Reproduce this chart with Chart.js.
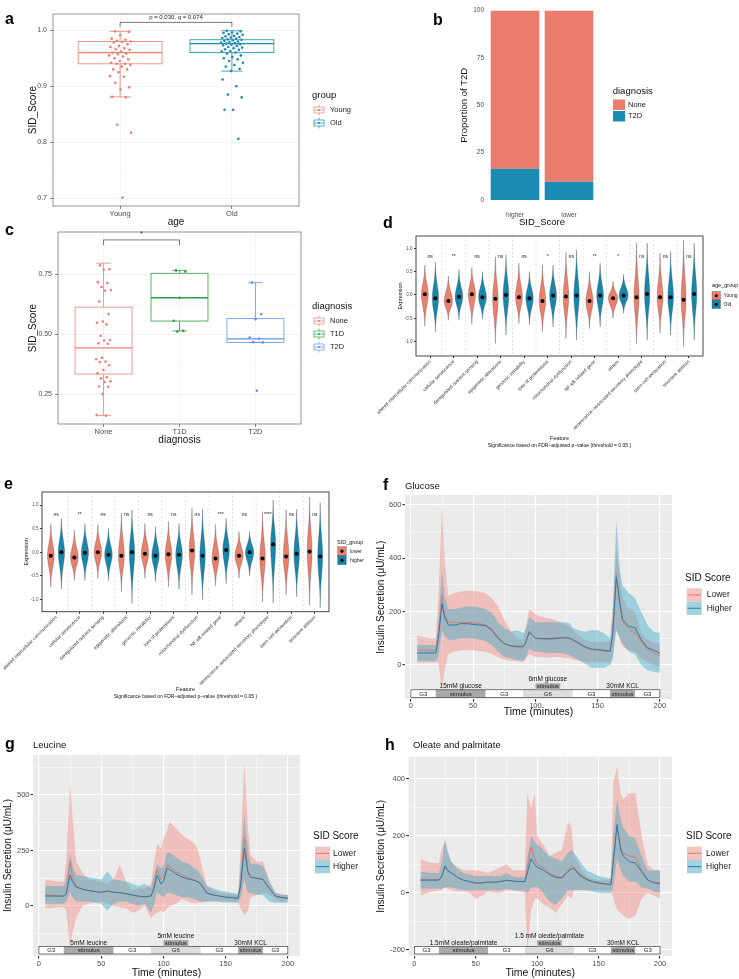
<!DOCTYPE html>
<html>
<head>
<meta charset="utf-8">
<title>SID score figure</title>
<script src="https://cdn.jsdelivr.net/npm/chart.js@4.4.1/dist/chart.umd.min.js"></script>
<style>
  body { margin: 0; background: #fff; font-family: "Liberation Sans", Arial, sans-serif; }
  #fig { position: relative; width: 739px; height: 979px; overflow: hidden; }
  .box { position: absolute; }
  .tag { position: absolute; font-size: 16px; line-height: 16px; font-weight: bold; color: #000; }
  .ttl { position: absolute; font-size: 9.5px; line-height: 9.5px; color: #111; white-space: nowrap; }
</style>
</head>
<body>
<div id="fig">
  <div class="box" style="left:0;top:0;width:370px;height:228px"><canvas id="chA"></canvas></div>
  <div class="box" style="left:370px;top:0;width:369px;height:228px"><canvas id="chB"></canvas></div>
  <div class="box" style="left:0;top:228px;width:370px;height:218px"><canvas id="chC"></canvas></div>
  <div class="box" style="left:370px;top:228px;width:369px;height:230px"><canvas id="chD"></canvas></div>
  <div class="box" style="left:0;top:480px;width:370px;height:230px"><canvas id="chE"></canvas></div>
  <div class="box" style="left:370px;top:470px;width:369px;height:248px"><canvas id="chF"></canvas></div>
  <div class="box" style="left:0;top:720px;width:370px;height:259px"><canvas id="chG"></canvas></div>
  <div class="box" style="left:370px;top:720px;width:369px;height:259px"><canvas id="chH"></canvas></div>

  <div class="tag" style="left:5px;top:10.5px">a</div>
  <div class="tag" style="left:433px;top:11.5px">b</div>
  <div class="tag" style="left:5px;top:221.5px">c</div>
  <div class="tag" style="left:383px;top:214.8px">d</div>
  <div class="tag" style="left:4px;top:475.8px">e</div>
  <div class="tag" style="left:383px;top:477.2px">f</div>
  <div class="tag" style="left:5px;top:735.5px">g</div>
  <div class="tag" style="left:385px;top:736.5px">h</div>
  <div class="ttl" style="left:405px;top:481.3px">Glucose</div>
  <div class="ttl" style="left:33px;top:739.7px">Leucine</div>
  <div class="ttl" style="left:413px;top:739.7px">Oleate and palmitate</div>
</div>
<script>
const FONT = '"Liberation Sans", Arial, sans-serif';
Chart.defaults.font.family = FONT;
Chart.defaults.color = '#4D4D4D';
Chart.defaults.animation = false;
Chart.defaults.responsive = true;
Chart.defaults.maintainAspectRatio = false;
Chart.defaults.plugins.legend.display = false;
Chart.defaults.plugins.tooltip.enabled = false;

// ---- a: SID score by age ----
const ageGroups = ['Young', 'Old'];
const youngScores = [0.998, 0.997, 0.991, 0.985, 0.983, 0.981, 0.980, 0.979, 0.978, 0.975, 0.972, 0.970, 0.968, 0.966, 0.965, 0.962, 0.960, 0.958, 0.957, 0.955, 0.953, 0.950, 0.948, 0.945, 0.942, 0.940, 0.940, 0.938, 0.935, 0.930, 0.930, 0.925, 0.918, 0.917, 0.906, 0.898, 0.894, 0.881, 0.880, 0.831, 0.817, 0.701];
const oldScores = [0.999, 0.998, 0.996, 0.995, 0.994, 0.993, 0.992, 0.990, 0.989, 0.988, 0.987, 0.986, 0.985, 0.984, 0.983, 0.982, 0.981, 0.980, 0.979, 0.978, 0.977, 0.976, 0.975, 0.974, 0.973, 0.972, 0.970, 0.969, 0.968, 0.966, 0.965, 0.963, 0.962, 0.960, 0.958, 0.955, 0.952, 0.950, 0.948, 0.945, 0.942, 0.938, 0.935, 0.931, 0.927, 0.912, 0.900, 0.885, 0.880, 0.858, 0.858, 0.806];
// whisker low, q1, median, q3, whisker high
const youngBox = [0.881, 0.940, 0.960, 0.980, 0.998];
const oldBox = [0.927, 0.960, 0.976, 0.983, 0.999];
const ageTest = 'p = 0.030, q = 0.074';

// ---- b: T2D proportion by SID group ----
const sidGroups = ['higher', 'lower'];
const noneShare = [83.5, 90.3];
const t2dShare = [16.5, 9.7];

// ---- c: SID score by diagnosis ----
const diagGroups = ['None', 'T1D', 'T2D'];
const noneScores = [0.786, 0.770, 0.768, 0.716, 0.712, 0.696, 0.683, 0.680, 0.635, 0.583, 0.552, 0.547, 0.540, 0.493, 0.475, 0.473, 0.461, 0.459, 0.401, 0.395, 0.385, 0.383, 0.370, 0.350, 0.336, 0.320, 0.315, 0.303, 0.300, 0.281, 0.280, 0.250, 0.162, 0.160];
const t1dScores = [0.765, 0.760, 0.651, 0.555, 0.513, 0.510];
const t2dScores = [0.714, 0.583, 0.561, 0.485, 0.480, 0.466, 0.465, 0.264];
const noneBox = [0.160, 0.333, 0.442, 0.612, 0.795];
const t1dBox = [0.513, 0.554, 0.651, 0.753, 0.765];
const t2dBox = [0.465, 0.465, 0.480, 0.564, 0.714];

// ---- d / e: hallmark expression ----
const features = ['altered intercellular communication', 'cellular senescence', 'deregulated nutrient sensing', 'epigenetic alterations', 'genomic instability', 'loss of proteostasis', 'mitochondrial dysfunction', 'NF-κB related gene', 'others', 'senescence–associated secretory phenotype', 'stem cell exhaustion', 'telomere attrition'];
const youngLo = [-0.67, -0.54, -0.63, -1.04, -0.61, -0.79, -0.93, -0.72, -0.50, -1.04, -0.82, -1.11];
const youngHi = [0.64, 0.41, 0.59, 0.82, 0.68, 0.64, 0.91, 0.50, 0.29, 1.11, 0.90, 1.18];
const youngMean = [0.015, -0.13, 0.015, -0.08, -0.05, -0.13, -0.03, -0.13, -0.07, -0.05, -0.05, -0.10];
const oldLo = [-0.79, -0.54, -0.52, -0.86, -0.64, -0.68, -0.97, -0.68, -0.39, -0.97, -0.86, -0.97];
const oldHi = [0.71, 0.54, 0.50, 0.86, 0.50, 0.64, 0.97, 0.68, 0.44, 1.11, 0.93, 1.11];
const oldMean = [-0.07, -0.04, -0.05, 0.00, -0.07, -0.01, -0.01, -0.01, -0.01, 0.02, -0.05, 0.02];
const ageSig = ['ns', '**', 'ns', 'ns', 'ns', '*', 'ns', '**', '*', 'ns', 'ns', 'ns'];

const lowerLo = [-0.74, -0.59, -0.55, -0.83, -0.55, -0.73, -0.90, -0.71, -0.55, -1.05, -0.90, -1.12];
const lowerHi = [0.61, 0.47, 0.58, 0.83, 0.61, 0.65, 0.93, 0.59, 0.44, 0.86, 0.90, 1.17];
const lowerMean = [-0.07, -0.11, 0.00, -0.07, -0.03, -0.04, 0.04, -0.13, -0.07, -0.13, -0.09, 0.02];
const higherLo = [-0.78, -0.60, -0.60, -1.08, -0.62, -0.78, -1.00, -0.66, -0.50, -1.08, -0.94, -1.17];
const higherHi = [0.72, 0.61, 0.51, 0.90, 0.54, 0.61, 0.91, 0.72, 0.44, 1.11, 0.91, 1.05];
const higherMean = [0.00, -0.01, -0.05, 0.00, -0.07, -0.05, -0.07, 0.05, 0.00, 0.17, -0.03, -0.09];
const sidSig = ['ns', '**', 'ns', 'ns', 'ns', 'ns', 'ns', '***', 'ns', '****', 'ns', 'ns'];

// ---- f / g / h: perifusion traces ----
const timeMin = [5, 10, 15, 20, 22, 25, 27, 30, 35, 40, 45, 50, 55, 60, 65, 70, 75, 80, 85, 90, 92, 95, 98, 100, 103, 105, 110, 115, 120, 125, 128, 130, 135, 140, 145, 150, 155, 160, 162, 165, 168, 170, 175, 180, 185, 190, 195, 200];

const glucoseLowerMean = [55, 55, 55, 55, 120, 262, 190, 160, 160, 160, 160, 158, 155, 150, 135, 105, 80, 70, 66, 64, 80, 120, 110, 100, 98, 97, 95, 97, 100, 100, 98, 92, 80, 65, 57, 55, 52, 50, 120, 340, 220, 165, 135, 120, 90, 60, 45, 35];
const glucoseLowerLo = [8, 8, 8, 8, 10, -95, -20, 40, 50, 55, 55, 55, 52, 50, 40, 30, 20, 15, 15, 10, 20, 40, 35, 30, 30, 30, 28, 30, 30, 25, 25, 20, 15, 10, 10, 10, 10, 10, 30, 140, 90, 70, 55, 50, 25, 10, 0, -5];
const glucoseLowerHi = [110, 105, 100, 100, 250, 595, 400, 260, 270, 275, 278, 278, 275, 270, 250, 220, 170, 130, 100, 95, 130, 210, 200, 190, 185, 180, 175, 170, 160, 150, 140, 130, 110, 95, 85, 85, 85, 90, 200, 440, 320, 250, 210, 200, 120, 95, 85, 80];
const glucoseHigherMean = [45, 45, 45, 45, 100, 230, 180, 150, 150, 155, 155, 152, 150, 148, 130, 100, 80, 72, 70, 70, 80, 125, 110, 100, 100, 100, 98, 100, 102, 102, 100, 95, 82, 68, 60, 58, 55, 52, 110, 330, 230, 170, 145, 140, 95, 65, 55, 45];
const glucoseHigherLo = [15, 15, 15, 15, 30, 130, 110, 95, 95, 100, 100, 98, 95, 90, 75, 50, 30, 25, 20, 15, 25, 60, 55, 50, 50, 48, 45, 45, 45, 40, 35, 30, 20, 5, -10, -10, -10, 0, 20, 130, 100, 80, 50, 40, 0, -20, -25, -30];
const glucoseHigherHi = [75, 75, 75, 75, 150, 360, 260, 210, 210, 215, 220, 220, 215, 210, 195, 160, 140, 125, 130, 120, 130, 180, 170, 160, 160, 160, 160, 160, 160, 160, 155, 140, 130, 125, 130, 130, 120, 100, 180, 545, 350, 300, 270, 250, 200, 150, 125, 120];

const leucineLowerMean = [50, 50, 45, 45, 60, 200, 130, 90, 75, 70, 65, 62, 65, 62, 60, 55, 50, 42, 42, 45, 80, 165, 120, 130, 185, 180, 155, 140, 128, 118, 110, 100, 60, 50, 45, 40, 38, 35, 100, 310, 160, 130, 125, 120, 80, 45, 38, 35];
const leucineLowerLo = [-10, -10, -5, -5, -20, -190, -120, -50, 0, 10, 15, 20, 10, 0, -5, -10, -30, -20, 0, -55, -40, -30, -20, -30, -10, 0, 10, 30, 20, 10, 15, 15, 20, 20, 25, 25, 20, 20, -10, -40, -20, 40, 50, 60, 55, 30, 20, 20];
const leucineLowerHi = [120, 115, 110, 110, 200, 550, 400, 200, 150, 120, 115, 110, 100, 120, 185, 110, 70, 80, 80, 100, 180, 280, 260, 300, 340, 380, 350, 320, 300, 280, 250, 200, 90, 70, 60, 55, 52, 50, 250, 650, 350, 230, 200, 200, 120, 60, 55, 50];
const leucineHigherMean = [45, 45, 45, 45, 55, 140, 110, 85, 75, 70, 65, 62, 68, 62, 60, 55, 50, 45, 42, 45, 70, 140, 100, 110, 170, 165, 145, 130, 122, 115, 108, 98, 58, 50, 45, 40, 38, 35, 90, 260, 150, 130, 125, 120, 80, 45, 38, 35];
const leucineHigherLo = [10, 10, 10, 10, 20, 60, 40, 20, 20, 20, 15, 10, -20, 10, 20, 20, 10, 0, 10, -30, 0, 60, 50, 40, 60, 60, 50, 40, 40, 30, 25, 20, 20, 20, 18, 15, 15, 15, 40, 120, 60, 60, 50, 50, 20, 15, 15, 15];
const leucineHigherHi = [90, 90, 90, 90, 120, 240, 180, 140, 135, 130, 125, 120, 155, 120, 115, 110, 100, 90, 100, 80, 130, 190, 170, 180, 240, 240, 220, 200, 190, 170, 160, 140, 90, 80, 70, 65, 60, 55, 180, 410, 250, 190, 190, 180, 110, 60, 50, 50];

const oleateLowerMean = [47, 47, 47, 47, 60, 90, 80, 70, 55, 45, 40, 35, 35, 38, 38, 40, 45, 42, 40, 40, 90, 160, 120, 100, 95, 90, 70, 60, 55, 80, 95, 90, 65, 50, 40, 35, 32, 30, 120, 230, 160, 140, 130, 125, 80, 45, 38, 35];
const oleateLowerLo = [-10, 0, 5, 10, 10, 20, 15, 10, 5, 5, 0, -20, -10, 5, 0, 0, 10, 10, 5, 0, -200, -60, -20, -20, -30, -40, -50, -70, -40, -10, -20, 10, 10, 10, 10, 10, 10, 10, -20, -60, -70, -80, -90, -80, -20, 0, -10, -20];
const oleateLowerHi = [120, 110, 105, 105, 150, 180, 140, 110, 90, 80, 80, 80, 75, 70, 80, 90, 100, 80, 80, 80, 350, 300, 350, 200, 180, 170, 130, 140, 150, 250, 230, 130, 90, 60, 50, 45, 45, 50, 390, 440, 350, 330, 350, 350, 200, 100, 80, 80];
const oleateHigherMean = [45, 45, 45, 45, 55, 95, 80, 70, 55, 45, 40, 35, 35, 38, 38, 40, 45, 42, 40, 40, 70, 120, 100, 90, 85, 80, 65, 55, 52, 75, 85, 85, 60, 48, 40, 35, 32, 30, 110, 240, 150, 130, 110, 105, 75, 45, 36, 33];
const oleateHigherLo = [15, 15, 15, 15, 15, 20, 20, 20, 15, 10, 10, 10, 10, 10, 10, 10, 15, 10, 10, 10, 0, 20, 20, 20, 10, 0, -30, -40, -20, 10, 10, 10, 10, 10, 5, 0, 0, 0, 20, 120, 80, 60, 40, 40, 20, 15, 5, 0];
const oleateHigherHi = [75, 72, 70, 70, 100, 190, 150, 110, 85, 70, 65, 60, 60, 60, 60, 60, 70, 60, 55, 55, 120, 200, 180, 170, 160, 150, 130, 120, 110, 140, 150, 140, 110, 80, 70, 60, 55, 50, 200, 330, 260, 230, 200, 190, 130, 80, 80, 80];

// perifusion protocol (minutes)
const protocolStart = [0, 20, 60, 90, 130, 160, 180];
const protocolEnd = [20, 60, 90, 130, 160, 180, 200];
const protocolLabel = ['G3', 'stimulus', 'G3', 'G6', 'G3', 'stimulus', 'G3'];
const pulseWindow = [100, 120];
const glucoseNotes = ['15mM glucose', '6mM glucose', '30mM KCL'];
const leucineNotes = ['5mM leucine', '5mM leucine', '30mM KCL'];
const oleateNotes = ['1.5mM oleate/palmitate', '1.5 mM oleate/palmitate', '30mM KCL'];

// ---- colours ----
const AGE_COLORS = ['#EA7F6E', '#1C8BB1'];
const DIAG_COLORS = ['#EE7F76', '#2CA043', '#6592EE'];
const BAR_COLORS = { None: '#EC7C6C', T2D: '#1A8BB3' };
const VIOLIN_COLORS = ['#EA7F6C', '#1686AD'];
const SHADE = { G3: '#FFFFFF', G6: '#DEDEDE', stimulus: '#A9A9A9' };
const LOW_FILL = 'rgba(245,125,115,0.4)';
const HIGH_FILL = 'rgba(60,170,200,0.45)';
const LOW_LINE = '#DD7A70';
const HIGH_LINE = '#2A7BA3';

// ---- helpers ----
function jitter(i, w) { return ((i * 0.618034 + 0.27) % 1 - 0.5) * 2 * w; }
function isMajor(v, step) { return Math.abs(v / step - Math.round(v / step)) < 1e-6; }
function fitY(width) { return s => { s.width = width; s.paddingTop = 0; s.paddingBottom = 0; }; }
function fitX(height) { return s => { s.height = height; s.paddingLeft = 0; s.paddingRight = 0; }; }
function useTicks(values) { return s => { s.ticks = values.map(v => ({ value: v })); }; }

function label(ctx, str, x, y, size, opt) {
  opt = opt || {};
  ctx.save();
  ctx.font = (opt.bold ? 'bold ' : '') + size + 'px ' + FONT;
  ctx.fillStyle = opt.color || '#111';
  ctx.textAlign = opt.align || 'left';
  ctx.textBaseline = 'middle';
  ctx.fillText(str, x, y);
  ctx.restore();
}

function axis(o) {
  const major = v => isMajor(v, o.major);
  return {
    type: 'linear', bounds: 'data', min: o.min, max: o.max,
    afterBuildTicks: useTicks(o.ticks),
    afterFit: o.fit,
    border: { display: false },
    grid: {
      drawOnChartArea: !!o.gridColor,
      color: o.gridColor || 'transparent',
      lineWidth: c => (c.tick && major(c.tick.value)) ? (o.majorW || 1) : (o.minorW || 0.5),
      tickColor: c => (c.tick && major(c.tick.value)) ? '#333' : 'transparent',
      tickLength: o.tickLength || 0,
      drawTicks: !!o.tickLength
    },
    ticks: {
      autoSkip: false, maxRotation: o.rotate || 0, minRotation: o.rotate || 0,
      padding: o.pad, font: { size: o.size }, color: o.tickColor || '#4D4D4D',
      callback: v => major(v) ? o.fmt(v) : ''
    },
    title: o.title ? { display: true, text: o.title, font: { size: o.titleSize }, color: '#111', padding: 0 } : { display: false }
  };
}

// ---- plugins ----
const frame = {
  id: 'frame',
  beforeDraw(chart, args, o) {
    if (!o.fill) return;
    const a = chart.chartArea, ctx = chart.ctx;
    ctx.save(); ctx.fillStyle = o.fill; ctx.fillRect(a.left, a.top, a.width, a.height); ctx.restore();
  },
  afterDatasetsDraw(chart, args, o) {
    if (!o.stroke) return;
    const a = chart.chartArea, ctx = chart.ctx;
    ctx.save(); ctx.strokeStyle = o.stroke; ctx.lineWidth = o.width || 1;
    ctx.strokeRect(a.left, a.top, a.width, a.height); ctx.restore();
  }
};

const boxPlot = {
  id: 'boxPlot',
  beforeDatasetsDraw(chart, args, o) {
    if (!o.boxes) return;
    const { ctx, scales: { x, y } } = chart;
    const px = v => x.getPixelForValue(v);
    ctx.save();
    o.boxes.forEach((b, i) => {
      const c = i + 1;
      const [lo, q1, md, q3, hi] = b.map(v => y.getPixelForValue(v));
      const l = px(c - o.width / 2), r = px(c + o.width / 2);
      ctx.strokeStyle = o.colors[i]; ctx.lineWidth = 0.8;
      ctx.beginPath();
      ctx.moveTo(px(c), lo); ctx.lineTo(px(c), q1);
      ctx.moveTo(px(c), q3); ctx.lineTo(px(c), hi);
      ctx.moveTo(px(c - o.cap / 2), lo); ctx.lineTo(px(c + o.cap / 2), lo);
      ctx.moveTo(px(c - o.cap / 2), hi); ctx.lineTo(px(c + o.cap / 2), hi);
      ctx.stroke();
      ctx.strokeRect(l, q3, r - l, q1 - q3);
      ctx.lineWidth = 1.3;
      ctx.beginPath(); ctx.moveTo(l, md); ctx.lineTo(r, md); ctx.stroke();
    });
    const k = o.bracket;
    if (k) {
      const by = y.getPixelForValue(k.y), dy = y.getPixelForValue(k.drop);
      ctx.strokeStyle = '#222'; ctx.lineWidth = 0.6;
      ctx.beginPath();
      ctx.moveTo(px(k.x1), dy); ctx.lineTo(px(k.x1), by); ctx.lineTo(px(k.x2), by); ctx.lineTo(px(k.x2), dy);
      ctx.stroke();
      label(ctx, k.text, px((k.x1 + k.x2) / 2), y.getPixelForValue(k.textY), k.size, { align: 'center', color: '#222' });
    }
    ctx.restore();
  }
};

const violins = {
  id: 'violins',
  beforeDatasetsDraw(chart, args, o) {
    if (!o.groups) return;
    const { ctx, chartArea: a, scales: { x, y } } = chart;
    ctx.save();
    ctx.strokeStyle = '#C8C8C8'; ctx.lineWidth = 0.5; ctx.setLineDash([2, 2]);
    for (let k = 1; k < o.count; k++) {
      const p = x.getPixelForValue(k + 0.5);
      ctx.beginPath(); ctx.moveTo(p, a.top); ctx.lineTo(p, a.bottom); ctx.stroke();
    }
    ctx.setLineDash([]);
    o.groups.forEach(g => {
      for (let i = 0; i < o.count; i++) {
        const lo = g.lo[i], hi = g.hi[i], m = g.mean[i];
        const w = Math.min(0.225, 0.17 / Math.pow(hi - lo, 0.6));
        const su = (hi - m) / 2.8, sd = (m - lo) / 2.8;
        const cx = i + 1 + g.offset;
        const right = [], left = [];
        for (let k = 0; k <= 60; k++) {
          const v = lo + (hi - lo) * k / 60;
          const s = v > m ? su : sd;
          const hw = w * Math.exp(-0.5 * Math.pow((v - m) / s, 2));
          const py = y.getPixelForValue(v);
          right.push([x.getPixelForValue(cx + hw), py]);
          left.push([x.getPixelForValue(cx - hw), py]);
        }
        const pts = right.concat(left.reverse());
        ctx.beginPath();
        pts.forEach((p, j) => j ? ctx.lineTo(p[0], p[1]) : ctx.moveTo(p[0], p[1]));
        ctx.closePath();
        ctx.fillStyle = g.color; ctx.fill();
        ctx.strokeStyle = 'rgba(60,60,60,0.7)'; ctx.lineWidth = 0.4; ctx.stroke();
      }
    });
    o.sig.forEach((s, i) => label(ctx, s, x.getPixelForValue(i + 1), y.getPixelForValue(o.sigY), 5, { align: 'center', color: '#222' }));
    ctx.restore();
  },
  afterDraw(chart, args, o) {
    if (!o.groups) return;
    const { ctx, chartArea: a } = chart;
    const cx = (a.left + a.right) / 2;
    label(ctx, 'Feature', cx, o.titleY, 5.5, { align: 'center', color: '#111' });
    label(ctx, 'Significance based on FDR–adjusted p–value (threshold = 0.05 )', cx, o.captionY, 5, { align: 'center', color: '#111' });
  }
};

const protocol = {
  id: 'protocol',
  afterDatasetsDraw(chart, args, o) {
    if (!o.notes) return;
    const { ctx, chartArea: a, scales: { x } } = chart;
    const px = v => x.getPixelForValue(v);
    const rowTop = a.bottom - 9.5, rowBot = a.bottom - 2;
    ctx.save();
    protocolStart.forEach((t0, i) => {
      const x0 = px(t0), x1 = px(protocolEnd[i]);
      ctx.fillStyle = SHADE[protocolLabel[i]];
      ctx.fillRect(x0, rowTop, x1 - x0, rowBot - rowTop);
      label(ctx, protocolLabel[i], (x0 + x1) / 2, (rowTop + rowBot) / 2 + 0.3, 6, { align: 'center', color: '#222' });
    });
    ctx.strokeStyle = '#222'; ctx.lineWidth = 0.6;
    ctx.strokeRect(px(protocolStart[0]), rowTop, px(protocolEnd[protocolEnd.length - 1]) - px(protocolStart[0]), rowBot - rowTop);
    const u0 = px(pulseWindow[0]), u1 = px(pulseWindow[1]);
    ctx.fillStyle = SHADE.stimulus;
    ctx.fillRect(u0, a.bottom - 16, u1 - u0, 6.5);
    label(ctx, 'stimulus', (u0 + u1) / 2, a.bottom - 12.6, 6, { align: 'center', color: '#222' });
    const stim = protocolLabel.map((l, i) => l === 'stimulus' ? (protocolStart[i] + protocolEnd[i]) / 2 : null).filter(v => v !== null);
    label(ctx, o.notes[0], px(stim[0]), a.bottom - 13, 6.5, { align: 'center' });
    label(ctx, o.notes[1], (u0 + u1) / 2, a.bottom - 20, 6.5, { align: 'center' });
    label(ctx, o.notes[2], px(stim[1]), a.bottom - 13, 6.5, { align: 'center' });
    ctx.restore();
  }
};

const keys = {
  id: 'keys',
  afterDraw(chart, args, o) {
    if (!o.items) return;
    const ctx = chart.ctx;
    label(ctx, o.title, o.x, o.y, o.titleSize, { color: '#111' });
    o.items.forEach((it, i) => {
      const kx = o.keyX, ky = o.firstTop + i * o.keyH, kw = o.keyW, kh = o.keyH;
      const cx = kx + kw / 2, cy = ky + kh / 2;
      ctx.save();
      if (o.kind === 'box') {
        ctx.strokeStyle = it.color; ctx.fillStyle = it.color; ctx.lineWidth = 0.7;
        ctx.strokeRect(kx + 1, cy - 3, kw - 2, 6);
        ctx.beginPath();
        ctx.moveTo(kx + 1, cy); ctx.lineTo(kx + kw - 1, cy);
        ctx.moveTo(cx, ky + 1); ctx.lineTo(cx, cy - 3);
        ctx.moveTo(cx, cy + 3); ctx.lineTo(cx, ky + kh - 1);
        ctx.stroke();
        ctx.beginPath(); ctx.arc(cx, cy, 1.1, 0, Math.PI * 2); ctx.fill();
      } else if (o.kind === 'square') {
        ctx.fillStyle = it.color; ctx.fillRect(kx, ky + 0.5, kw, kh - 1);
      } else if (o.kind === 'dot') {
        ctx.fillStyle = it.color; ctx.fillRect(kx, ky, kw, kh);
        ctx.strokeStyle = '#444'; ctx.lineWidth = 0.3; ctx.strokeRect(kx, ky, kw, kh);
        ctx.fillStyle = '#000'; ctx.beginPath(); ctx.arc(cx, cy, 1.6, 0, Math.PI * 2); ctx.fill();
      } else {
        ctx.fillStyle = '#F2F2F2'; ctx.fillRect(kx, ky, kw, kh);
        ctx.fillStyle = it.color; ctx.fillRect(kx, ky, kw, kh);
        ctx.strokeStyle = it.line; ctx.lineWidth = 1;
        ctx.beginPath(); ctx.moveTo(kx + 1, cy); ctx.lineTo(kx + kw - 1, cy); ctx.stroke();
      }
      ctx.restore();
      label(ctx, it.label, o.labelX, cy, o.labelSize, { color: '#222' });
    });
  }
};

Chart.register(frame, boxPlot, violins, protocol, keys);

// ---- panel a ----
new Chart(document.getElementById('chA'), {
  type: 'scatter',
  data: {
    datasets: [
      { data: youngScores.map((v, i) => ({ x: 1 + jitter(i, 0.1), y: v })), backgroundColor: AGE_COLORS[0], pointRadius: 1.3, borderWidth: 0 },
      { data: oldScores.map((v, i) => ({ x: 2 + jitter(i, 0.1), y: v })), backgroundColor: AGE_COLORS[1], pointRadius: 1.3, borderWidth: 0 }
    ]
  },
  options: {
    layout: { padding: { left: 27, right: 71, top: 14, bottom: 0 } },
    scales: {
      x: axis({ min: 0.4, max: 2.6, ticks: [1, 2], major: 1, fmt: v => ageGroups[v - 1], fit: fitX(22), gridColor: '#EBEBEB', majorW: 0.6, tickLength: 3, pad: 0.5, size: 7.5, title: 'age', titleSize: 10 }),
      y: axis({ min: 0.686, max: 1.029, ticks: [0.7, 0.75, 0.8, 0.85, 0.9, 0.95, 1.0], major: 0.1, fmt: v => v.toFixed(1), fit: fitY(26), gridColor: '#EBEBEB', majorW: 0.6, minorW: 0.3, tickLength: 3, pad: 3, size: 7, title: 'SID_Score', titleSize: 10 })
    },
    plugins: {
      frame: { stroke: '#666', width: 0.7 },
      boxPlot: { boxes: [youngBox, oldBox], colors: AGE_COLORS, width: 0.75, cap: 0.19, bracket: { x1: 1, x2: 2, y: 1.014, drop: 1.006, text: ageTest, textY: 1.023, size: 6 } },
      keys: { kind: 'box', title: 'group', titleSize: 9.5, x: 312, y: 95, keyX: 313, keyW: 12, keyH: 13, firstTop: 103.5, labelX: 330, labelSize: 7.5, items: ageGroups.map((g, i) => ({ label: g, color: AGE_COLORS[i] })) }
    }
  }
});

// ---- panel b ----
new Chart(document.getElementById('chB'), {
  type: 'bar',
  data: {
    labels: sidGroups,
    datasets: [
      { label: 'T2D', data: t2dShare, backgroundColor: BAR_COLORS.T2D, barPercentage: 0.9, categoryPercentage: 1 },
      { label: 'None', data: noneShare, backgroundColor: BAR_COLORS.None, barPercentage: 0.9, categoryPercentage: 1 }
    ]
  },
  options: {
    layout: { padding: { left: 89, right: 143, top: 1.2, bottom: 0 } },
    scales: {
      x: { stacked: true, afterFit: fitX(18.5), grid: { display: false, drawTicks: false, tickLength: 0 }, border: { display: false },
        ticks: { font: { size: 6.5 }, padding: 2, color: '#4D4D4D' },
        title: { display: true, text: 'SID_Score', font: { size: 9.5 }, color: '#111', padding: 0 } },
      y: Object.assign(axis({ min: -5, max: 105, ticks: [0, 25, 50, 75, 100], major: 25, fmt: v => String(v), fit: fitY(29), pad: 4, size: 6.5, title: 'Proportion of T2D', titleSize: 9.5 }),
        { stacked: true, grid: { display: false, drawTicks: false, tickLength: 0 } })
    },
    plugins: {
      keys: { kind: 'square', title: 'diagnosis', titleSize: 9.5, x: 242.7, y: 91, keyX: 243, keyW: 12, keyH: 11.5, firstTop: 99, labelX: 258, labelSize: 7.5, items: [{ label: 'None', color: BAR_COLORS.None }, { label: 'T2D', color: BAR_COLORS.T2D }] }
    }
  }
});

// ---- panel c ----
new Chart(document.getElementById('chC'), {
  type: 'scatter',
  data: {
    datasets: [noneScores, t1dScores, t2dScores].map((arr, g) => ({
      data: arr.map((v, i) => ({ x: g + 1 + jitter(i, 0.1), y: v })), backgroundColor: DIAG_COLORS[g], pointRadius: 1.3, borderWidth: 0
    }))
  },
  options: {
    layout: { padding: { left: 27, right: 69, top: 4, bottom: 0 } },
    scales: {
      x: axis({ min: 0.4, max: 3.6, ticks: [1, 2, 3], major: 1, fmt: v => diagGroups[v - 1], fit: fitX(22), gridColor: '#EBEBEB', majorW: 0.6, tickLength: 3, pad: 0, size: 7.5, title: 'diagnosis', titleSize: 10 }),
      y: axis({ min: 0.125, max: 0.925, ticks: [0.25, 0.375, 0.5, 0.625, 0.75, 0.875], major: 0.25, fmt: v => v.toFixed(2), fit: fitY(31), gridColor: '#EBEBEB', majorW: 0.6, minorW: 0.3, tickLength: 3, pad: 3, size: 7, title: 'SID_Score', titleSize: 10 })
    },
    plugins: {
      frame: { stroke: '#666', width: 0.7 },
      boxPlot: { boxes: [noneBox, t1dBox, t2dBox], colors: DIAG_COLORS, width: 0.75, cap: 0.19, bracket: { x1: 1, x2: 2, y: 0.892, drop: 0.87, text: '*', textY: 0.917, size: 8 } },
      keys: { kind: 'box', title: 'diagnosis', titleSize: 9.5, x: 312, y: 78, keyX: 313, keyW: 12, keyH: 13, firstTop: 86.5, labelX: 330, labelSize: 7.5, items: diagGroups.map((g, i) => ({ label: g, color: DIAG_COLORS[i] })) }
    }
  }
});

// ---- panels d and e ----
function violinChart(id, o) {
  const dots = (means, off) => means.map((m, i) => ({ x: i + 1 + off, y: m }));
  return new Chart(document.getElementById(id), {
    type: 'scatter',
    data: {
      datasets: [
        { data: dots(o.aMean, -0.225), backgroundColor: '#000', pointRadius: 2, borderWidth: 0 },
        { data: dots(o.bMean, 0.225), backgroundColor: '#000', pointRadius: 2, borderWidth: 0 }
      ]
    },
    options: {
      layout: { padding: o.padding },
      scales: {
        x: axis({ min: 0.4, max: 12.6, ticks: features.map((f, i) => i + 1), major: 1, fmt: v => features[v - 1], fit: fitX(o.xHeight), tickLength: 2, pad: 1, size: 4.8, rotate: 45, tickColor: '#333' }),
        y: axis({ min: o.yMin, max: o.yMax, ticks: [-1, -0.5, 0, 0.5, 1], major: 0.5, fmt: v => v.toFixed(1), fit: fitY(o.yWidth), tickLength: 2, pad: 1.5, size: 4.5, title: 'Expression', titleSize: 5.5 })
      },
      plugins: {
        frame: { stroke: '#333', width: 0.9 },
        violins: {
          count: features.length, sig: o.sig, sigY: o.sigY, titleY: o.titleY, captionY: o.captionY,
          groups: [
            { offset: -0.225, color: VIOLIN_COLORS[0], lo: o.aLo, hi: o.aHi, mean: o.aMean },
            { offset: 0.225, color: VIOLIN_COLORS[1], lo: o.bLo, hi: o.bHi, mean: o.bMean }
          ]
        },
        keys: Object.assign({ kind: 'dot', titleSize: 5.5, keyW: 8.5, labelSize: 5, items: o.names.map((n, i) => ({ label: n, color: VIOLIN_COLORS[i] })) }, o.legend)
      }
    }
  });
}

violinChart('chD', {
  padding: { left: 26.7, right: 36, top: 8, bottom: 0 }, xHeight: 102, yWidth: 19.3, yMin: -1.309, yMax: 1.266,
  aLo: youngLo, aHi: youngHi, aMean: youngMean, bLo: oldLo, bHi: oldHi, bMean: oldMean,
  sig: ageSig, sigY: 0.815, titleY: 210, captionY: 218, names: ['Young', 'Old'],
  legend: { title: 'age_group', x: 342, y: 57, keyX: 342, keyH: 8.5, firstTop: 63.5, labelX: 353.5 }
});

violinChart('chE', {
  padding: { left: 23.4, right: 41, top: 12, bottom: 0 }, xHeight: 98.3, yWidth: 18.6, yMin: -1.258, yMax: 1.278,
  aLo: lowerLo, aHi: lowerHi, aMean: lowerMean, bLo: higherLo, bHi: higherHi, bMean: higherMean,
  sig: sidSig, sigY: 0.79, titleY: 209, captionY: 216.7, names: ['lower', 'higher'],
  legend: { title: 'SID_group', x: 337, y: 62, keyX: 337.7, keyH: 9, firstTop: 66.7, labelX: 350 }
});

// ---- panels f, g, h ----
function traceChart(id, o) {
  const pts = arr => timeMin.map((t, i) => ({ x: t, y: arr[i] }));
  const edge = { borderColor: 'transparent', borderWidth: 0, pointRadius: 0 };
  return new Chart(document.getElementById(id), {
    type: 'line',
    data: {
      datasets: [
        { data: pts(o.higherMean), borderColor: HIGH_LINE, borderWidth: 1, pointRadius: 0, fill: false },
        { data: pts(o.lowerMean), borderColor: LOW_LINE, borderWidth: 1, pointRadius: 0, fill: false },
        Object.assign({ data: pts(o.higherHi), fill: '+1', backgroundColor: HIGH_FILL }, edge),
        Object.assign({ data: pts(o.higherLo), fill: false }, edge),
        Object.assign({ data: pts(o.lowerHi), fill: '+1', backgroundColor: LOW_FILL }, edge),
        Object.assign({ data: pts(o.lowerLo), fill: false }, edge)
      ]
    },
    options: {
      layout: { padding: o.padding },
      scales: {
        x: axis({ min: -4.75, max: 209.75, ticks: [0, 25, 50, 75, 100, 125, 150, 175, 200], major: 50, fmt: v => String(v), fit: fitX(o.xHeight), gridColor: '#FFFFFF', majorW: 1.1, minorW: 0.5, tickLength: 2.5, pad: o.xPad, size: 7.5, title: 'Time (minutes)', titleSize: 10.5 }),
        y: axis({ min: o.yMin, max: o.yMax, ticks: o.yTicks, major: o.yMajor, fmt: v => String(v), fit: fitY(o.yWidth), gridColor: '#FFFFFF', majorW: 1.1, minorW: 0.5, tickLength: 2.5, pad: 1, size: 7.5, title: 'Insulin Secretion (μU/mL)', titleSize: 10 })
      },
      plugins: {
        frame: { fill: '#EBEBEB' },
        protocol: { notes: o.notes },
        keys: Object.assign({ kind: 'ribbon', title: 'SID Score', titleSize: 10, keyW: 15, keyH: 13.3, labelSize: 8.5,
          items: [{ label: 'Lower', color: LOW_FILL, line: LOW_LINE }, { label: 'Higher', color: HIGH_FILL, line: HIGH_LINE }] }, o.legend)
      }
    }
  });
}

traceChart('chF', {
  padding: { left: 5.7, right: 67, top: 25, bottom: 0 }, xHeight: 18.7, xPad: 0, yWidth: 29.3,
  yMin: -128.7, yMax: 637.5, yTicks: [-100, 0, 100, 200, 300, 400, 500, 600], yMajor: 200,
  lowerMean: glucoseLowerMean, lowerLo: glucoseLowerLo, lowerHi: glucoseLowerHi,
  higherMean: glucoseHigherMean, higherLo: glucoseHigherLo, higherHi: glucoseHigherHi,
  notes: glucoseNotes,
  legend: { x: 315, y: 108, keyX: 316.7, firstTop: 118.3, labelX: 336.7 }
});

traceChart('chG', {
  padding: { left: 2.3, right: 70, top: 35, bottom: 0 }, xHeight: 23, xPad: 1, yWidth: 30.7,
  yMin: -225, yMax: 680, yTicks: [-125, 0, 125, 250, 375, 500, 625], yMajor: 250,
  lowerMean: leucineLowerMean, lowerLo: leucineLowerLo, lowerHi: leucineLowerHi,
  higherMean: leucineHigherMean, higherLo: leucineHigherLo, higherHi: leucineHigherHi,
  notes: leucineNotes,
  legend: { x: 313, y: 116.7, keyX: 315, firstTop: 126.7, labelX: 333 }
});

traceChart('chH', {
  padding: { left: 5.7, right: 67, top: 36.7, bottom: 0 }, xHeight: 23, xPad: 1, yWidth: 32.8,
  yMin: -221, yMax: 478, yTicks: [-200, -100, 0, 100, 200, 300, 400], yMajor: 200,
  lowerMean: oleateLowerMean, lowerLo: oleateLowerLo, lowerHi: oleateLowerHi,
  higherMean: oleateHigherMean, higherLo: oleateHigherLo, higherHi: oleateHigherHi,
  notes: oleateNotes,
  legend: { x: 316, y: 116.7, keyX: 317, firstTop: 126.7, labelX: 336 }
});
</script>
</body>
</html>
